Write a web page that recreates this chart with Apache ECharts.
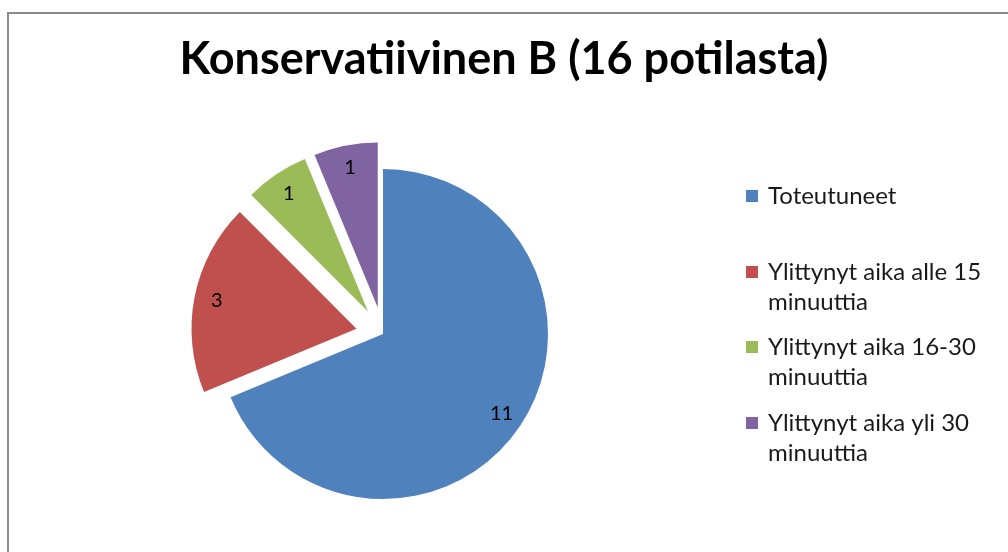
<!DOCTYPE html>
<html>
<head>
<meta charset="utf-8">
<script src="https://cdn.jsdelivr.net/npm/echarts@6/dist/echarts.min.js"></script>
<style>
  html, body { margin: 0; padding: 0; background: #fff; }
  #chart { width: 1008px; height: 552px; }
</style>
</head>
<body>
<div id="chart"></div>
<script>
var titleText = "Konservatiivinen B (16 potilasta)";
var categories = [
  "Toteutuneet",
  "Ylittynyt aika alle 15 minuuttia",
  "Ylittynyt aika 16-30 minuuttia",
  "Ylittynyt aika yli 30 minuuttia"
];
var values = [11, 3, 1, 1];
var exploded = [false, true, true, true];
var colors = ["#4F81BD", "#C0504D", "#9BBB59", "#8064A2"];
var legendTops = [181, 227, 302, 378];

var chart = echarts.init(document.getElementById("chart"));

function pieData(withColor) {
  return categories.map(function (name, i) {
    return {
      name: name,
      value: values[i],
      selected: exploded[i],
      itemStyle: { color: withColor ? colors[i] : "rgba(0,0,0,0)" }
    };
  });
}

// one legend per entry so each can sit where Excel put it
var legends = categories.map(function (name, i) {
  return {
    data: [name],
    orient: "vertical",
    left: 746,
    top: legendTops[i],
    padding: 0,
    icon: "rect",
    itemWidth: 12,
    itemHeight: 12,
    selectedMode: false,
    formatter: function (n) {
      // wrapped items get an empty first line so the square sits on line 1
      if (n.indexOf(" minuuttia") < 0) return n;
      return "\n" + n.replace(" minuuttia", "\nminuuttia");
    },
    textStyle: {
      fontFamily: "Lato",
      fontSize: 24,
      color: "#1a1a1a",
      lineHeight: 30,
      padding: [0, 0, 0, 5]
    }
  };
});

chart.setOption({
  animation: false,
  backgroundColor: "#fff",
  title: {
    text: titleText,
    left: "center",
    top: 37,
    padding: 0,
    textStyle: {
      fontFamily: "Lato",
      fontWeight: "bold",
      fontSize: 45,
      color: "#000"
    }
  },
  legend: legends,
  graphic: [
    {
      type: "rect",
      shape: { x: 8, y: 13, width: 1100, height: 600 },
      style: { fill: null, stroke: "#8a8a8a", lineWidth: 2 },
      silent: true
    }
  ],
  series: [
    {
      name: "pie",
      type: "pie",
      center: [383, 334],
      radius: [0, 165],
      startAngle: 90,
      clockwise: true,
      selectedMode: "multiple",
      selectedOffset: 27,
      label: { show: false },
      labelLine: { show: false },
      itemStyle: { borderWidth: 0 },
      emphasis: { disabled: true },
      data: pieData(true)
    },
    {
      // transparent ring that only carries the value labels
      name: "labels",
      type: "pie",
      silent: true,
      center: [383, 334],
      radius: [114, 165],
      startAngle: 90,
      clockwise: true,
      selectedMode: "multiple",
      selectedOffset: 27,
      label: {
        show: true,
        position: "inside",
        formatter: "{c}",
        fontFamily: "Lato",
        fontSize: 20,
        color: "#000"
      },
      labelLine: { show: false },
      itemStyle: { borderWidth: 0 },
      emphasis: { disabled: true },
      data: pieData(false)
    }
  ]
});
</script>
</body>
</html>
